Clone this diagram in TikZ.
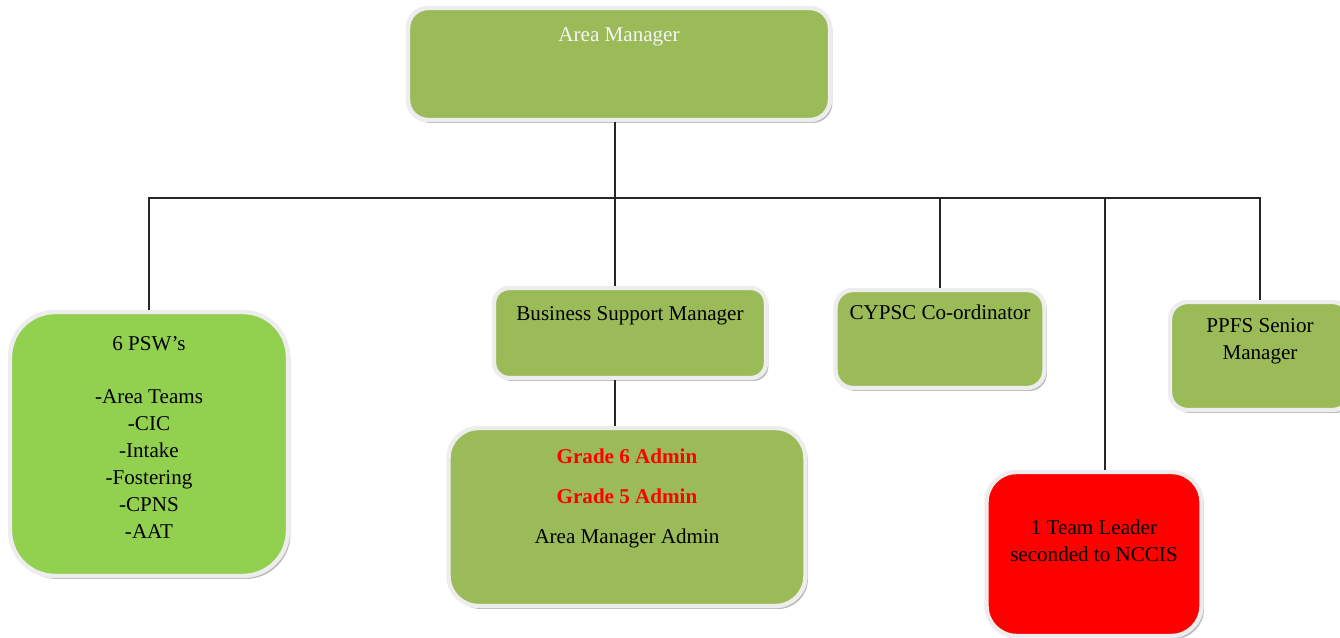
\documentclass[tikz,border=0pt]{standalone}
\usepackage{fontspec}
\setmainfont{Liberation Serif}
\usepackage{tikz}
\usetikzlibrary{positioning, shadows}
\definecolor{olivegreen}{RGB}{155, 187, 89}
\definecolor{limegreen}{RGB}{146, 208, 80}
\definecolor{alertred}{RGB}{255, 0, 0}
\tikzset{
    boxnode/.style = {draw=white!93!black, line width=2.5pt, rectangle, rounded corners=0.4cm, 
      fill=olivegreen, inner sep = 0em, 
      drop shadow={shadow xshift=0.05cm, shadow yshift=-0.06cm, fill=black!45, opacity=0.6}},
    textnode/.style = {draw=none, fill=none, rectangle, inner sep = 0em, align=center, 
      font=\fontsize{12}{15.3}\selectfont},
    connect/.style = {draw=black!85, line width=0.75pt}
}
\newcommand{\grade}[1]{{\color{alertred}\bfseries #1}}

\begin{document}
\begin{tikzpicture}[x=0.02cm, y=-0.02cm]
    \useasboundingbox (0,0) rectangle (1340,638);

    \node [name = AM, boxnode, minimum width=8.44cm, minimum height=2.24cm] at (619,64) {};
    \node [name = PSW, boxnode, fill=limegreen, rounded corners=0.9cm, minimum width=5.56cm, minimum height=5.28cm] at (149,444) {};
    \node [name = BSM, boxnode, rounded corners=0.3cm, minimum width=5.44cm, minimum height=1.8cm] at (630,333) {};
    \node [name = Grade, boxnode, rounded corners=0.6cm, minimum width=7.14cm, minimum height=3.56cm] at (627,517) {};
    \node [name = CYPSC, boxnode, rounded corners=0.35cm, minimum width=4.18cm, minimum height=1.96cm] at (940,339) {};
    \node [name = Red, boxnode, fill=alertred, rounded corners=0.6cm, minimum width=4.3cm, minimum height=3.28cm] at (1094,554) {};
    \node [name = PPFS, boxnode, rounded corners=0.35cm, minimum width=3.6cm, minimum height=2.16cm] at (1260,356) {};

    \node [name = AMtext, textnode, text=white!96!black, below = 0.42cm of AM.north] {Area Manager};
    \node [name = PSWtext, textnode, below = 0.52cm of PSW.north] 
        {6 PSW’s\\[15.3pt] -Area Teams\\ -CIC\\ -Intake\\ -Fostering\\ -CPNS\\ -AAT};
    \node [name = BSMtext, textnode, below = 0.4cm of BSM.north] {Business Support Manager};
    \node [name = Gradetext, textnode, below = 0.46cm of Grade.north] 
        {\grade{Grade 6 Admin}\\[7.5pt] \grade{Grade 5 Admin}\\[7.5pt] Area Manager Admin};
    \node [name = CYPSCtext, textnode, below = 0.34cm of CYPSC.north] {CYPSC Co-ordinator};
    \node [name = Redtext, textnode, below = 1cm of Red.north] {1 Team Leader\\ seconded to NCCIS};
    \node [name = PPFStext, textnode, below = 0.37cm of PPFS.north] {PPFS Senior\\ Manager};

    \coordinate (bus) at (615,198);
    \draw [connect] (PSW.north) |- (bus) -| (PPFS.north); 
    \draw [connect] (AM.south -| bus) -- (BSM.north -| bus); 
    \draw [connect] (BSM.south -| bus) -- (Grade.north -| bus); 
    \draw [connect] (CYPSC.north) -- (CYPSC.north |- bus); 
    \draw [connect] ([xshift=0.22cm]Red.north) -- ([xshift=0.22cm]Red.north |- bus); 
\end{tikzpicture}
\end{document}
